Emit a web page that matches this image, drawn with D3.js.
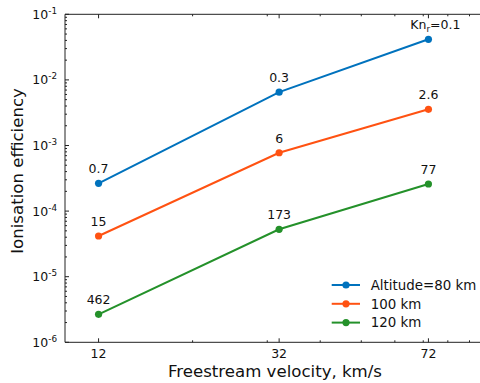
<!doctype html>
<html lang='en'>
<head>
<meta charset='UTF-8'>
<title>Ionisation efficiency</title>
<style>
  body { margin: 0; background: #fff; }
  svg { display: block; font-family: 'DejaVu Sans', sans-serif; }
</style>
</head>
<body>
<script src='https://d3js.org/d3.v7.min.js'></script>
<script>
  const velocities = [12, 32, 72]
  const seriesNames = ['Altitude=80 km', '100 km', '120 km']
  const eff80 = [2.65e-4, 6.5e-3, 4.16e-2]
  const eff100 = [4.17e-5, 7.76e-4, 3.56e-3]
  const eff120 = [2.67e-6, 5.28e-5, 2.59e-4]
  const kn80 = ['0.7', '0.3', '0.1']
  const kn100 = ['15', '6', '2.6']
  const kn120 = ['462', '173', '77']
  const yTickExps = [-1, -2, -3, -4, -5, -6]
  const colors = ['#0072bd', '#ff5212', '#24912a']

  const w = 480
  const h = 383
  const m = { left: 65, right: 481, top: 14.3, bottom: 342.3 }

  const series = [
    { name: seriesNames[0], values: eff80, labels: kn80, color: colors[0] },
    { name: seriesNames[1], values: eff100, labels: kn100, color: colors[1] },
    { name: seriesNames[2], values: eff120, labels: kn120, color: colors[2] }
  ]

  const x = d3.scaleLog().domain([10, 95.8]).range([m.left, m.right])
  const y = d3.scaleLog().domain([1e-6, 1e-1]).range([m.bottom, m.top])

  const svg = d3.select('body').append('svg')
    .attr('width', w)
    .attr('height', h)

  // frame
  const axisColor = '#222'
  svg.append('line').attr('x1', m.left).attr('x2', m.left).attr('y1', m.top).attr('y2', m.bottom)
    .attr('stroke', axisColor).attr('stroke-width', 1)
  svg.append('line').attr('x1', m.left).attr('x2', m.right).attr('y1', m.bottom).attr('y2', m.bottom)
    .attr('stroke', axisColor).attr('stroke-width', 1)
  svg.append('line').attr('x1', m.left).attr('x2', m.right).attr('y1', m.top).attr('y2', m.top)
    .attr('stroke', axisColor).attr('stroke-width', 1)

  // x ticks (inward, bottom and top)
  const xMinor = d3.range(20, 100, 10)
  const xTicks = svg.append('g')
  velocities.forEach(v => {
    xTicks.append('line').attr('x1', x(v)).attr('x2', x(v)).attr('y1', m.bottom).attr('y2', m.bottom - 4).attr('stroke', axisColor)
    xTicks.append('line').attr('x1', x(v)).attr('x2', x(v)).attr('y1', m.top).attr('y2', m.top + 4).attr('stroke', axisColor)
    xTicks.append('text').attr('x', x(v)).attr('y', 358).attr('text-anchor', 'middle')
      .attr('font-size', 12.5).attr('fill', '#111').text(v)
  })
  xMinor.filter(v => x(v) < m.right).forEach(v => {
    xTicks.append('line').attr('x1', x(v)).attr('x2', x(v)).attr('y1', m.bottom).attr('y2', m.bottom - 2).attr('stroke', axisColor)
    xTicks.append('line').attr('x1', x(v)).attr('x2', x(v)).attr('y1', m.top).attr('y2', m.top + 2).attr('stroke', axisColor)
  })

  // y ticks
  const yTicks = svg.append('g')
  yTickExps.forEach(e => {
    const v = Math.pow(10, e)
    yTicks.append('line').attr('x1', m.left).attr('x2', m.left + 4).attr('y1', y(v)).attr('y2', y(v)).attr('stroke', axisColor)
    const t = yTicks.append('text').attr('x', 57).attr('y', y(v) + 4.5).attr('text-anchor', 'end')
      .attr('font-size', 12.5).attr('fill', '#111')
    t.append('tspan').text('10')
    t.append('tspan').attr('dy', -5).attr('font-size', 8.8).text(e)
    if (e > -6) {
      for (let k = 2; k <= 9; k++) {
        const mv = k * Math.pow(10, e - 1)
        yTicks.append('line').attr('x1', m.left).attr('x2', m.left + 2).attr('y1', y(mv)).attr('y2', y(mv)).attr('stroke', axisColor)
      }
    }
  })

  // axis titles
  svg.append('text').attr('x', 275).attr('y', 377).attr('text-anchor', 'middle')
    .attr('font-size', 16.6).attr('fill', '#111').text('Freestream velocity, km/s')
  svg.append('text').attr('transform', 'translate(23,171) rotate(-90)').attr('text-anchor', 'middle')
    .attr('font-size', 16.6).attr('fill', '#111').text('Ionisation efficiency')

  // lines and points
  const line = d3.line().x((d, i) => x(velocities[i])).y(d => y(d))
  series.forEach(s => {
    svg.append('path').datum(s.values).attr('d', line)
      .attr('fill', 'none').attr('stroke', s.color).attr('stroke-width', 2)
    svg.selectAll(null).data(s.values).enter().append('circle')
      .attr('cx', (d, i) => x(velocities[i])).attr('cy', d => y(d)).attr('r', 3.6)
      .attr('fill', s.color)
    s.values.forEach((d, i) => {
      const t = svg.append('text').attr('x', x(velocities[i])).attr('y', y(d) - 10)
        .attr('text-anchor', 'middle').attr('font-size', 12.5).attr('fill', '#111')
      if (s === series[0] && i === velocities.length - 1) {
        t.attr('dx', 7)
        t.append('tspan').text('Kn')
        t.append('tspan').attr('dy', 3).attr('font-size', 8.8).text('r')
        t.append('tspan').attr('dy', -3).text('=' + s.labels[i])
      } else {
        t.text(s.labels[i])
      }
    })
  })

  // legend
  const legend = svg.append('g')
  series.forEach((s, i) => {
    const ly = 285 + i * 18.8
    legend.append('line').attr('x1', 331.7).attr('x2', 360).attr('y1', ly).attr('y2', ly)
      .attr('stroke', s.color).attr('stroke-width', 2)
    legend.append('circle').attr('cx', 346).attr('cy', ly).attr('r', 3.6).attr('fill', s.color)
    legend.append('text').attr('x', 370.7).attr('y', ly + 4.8).attr('font-size', 13.4)
      .attr('fill', '#111').text(s.name)
  })
</script>
</body>
</html>
